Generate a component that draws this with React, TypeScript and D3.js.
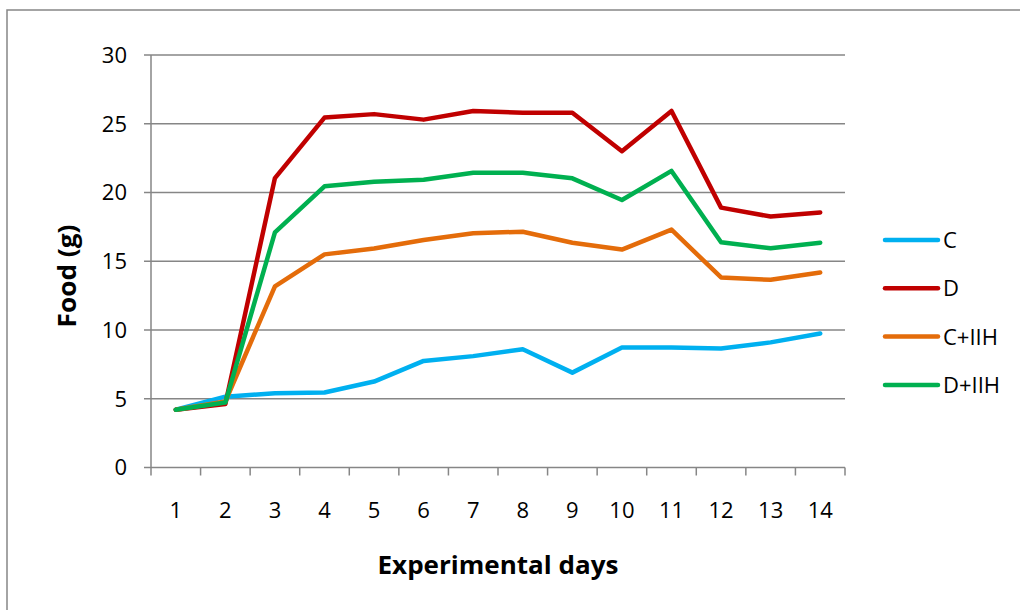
import React from "react";
import * as d3 from "d3";

// Experimental days on the x axis
const days = ["1", "2", "3", "4", "5", "6", "7", "8", "9", "10", "11", "12", "13", "14"];

// Daily food intake (g) per group
const seriesC = [4.2, 5.15, 5.4, 5.45, 6.25, 7.75, 8.1, 8.6, 6.9, 8.72, 8.72, 8.66, 9.1, 9.75];
const seriesD = [4.2, 4.62, 21.05, 25.45, 25.7, 25.3, 25.93, 25.8, 25.8, 23.0, 25.93, 18.9, 18.25, 18.55];
const seriesCIIH = [4.2, 4.8, 13.18, 15.5, 15.93, 16.55, 17.03, 17.15, 16.35, 15.85, 17.3, 13.82, 13.65, 14.18];
const seriesDIIH = [4.2, 4.72, 17.1, 20.45, 20.78, 20.93, 21.43, 21.43, 21.03, 19.45, 21.57, 16.38, 15.95, 16.35];

const seriesNames = ["C", "D", "C+IIH", "D+IIH"];
const seriesColors = ["#00b0f0", "#c00000", "#e46c0a", "#00b050"];

const yTicks = [0, 5, 10, 15, 20, 25, 30];

const W = 1020;
const H = 610;
const plot = { left: 151, right: 845, top: 55, bottom: 467.5 };
const font = "'Open Sans', 'Noto Sans', sans-serif";
const gridColor = "#868686";

export default function App() {
  const series = [seriesC, seriesD, seriesCIIH, seriesDIIH];

  const x = d3.scaleBand<string>().domain(days).range([plot.left, plot.right]);
  const y = d3.scaleLinear().domain([0, 30]).range([plot.bottom, plot.top]);
  const cx = (d: string) => (x(d) ?? 0) + x.bandwidth() / 2;

  const line = d3
    .line<number>()
    .x((_, i) => cx(days[i]))
    .y((v) => y(v));

  const tickEdges = d3.range(days.length + 1).map((i) => plot.left + i * x.step());

  return (
    <svg
      width={W}
      height={H}
      style={{ position: "absolute", left: 0, top: 0, background: "#fff" }}
    >
      {/* chart frame */}
      <rect x={7} y={10} width={W} height={H} fill="#fff" stroke={gridColor} strokeWidth={1.5} />

      {/* horizontal gridlines with y tick marks */}
      {yTicks.map((t) => (
        <g key={t}>
          <line
            x1={plot.left - 7}
            x2={plot.right}
            y1={y(t)}
            y2={y(t)}
            stroke={gridColor}
            strokeWidth={1.5}
          />
          <text
            x={127}
            y={y(t)}
            dy="0.36em"
            textAnchor="end"
            fontFamily={font}
            fontSize={22}
            fill="#000"
          >
            {t}
          </text>
        </g>
      ))}

      {/* y axis line */}
      <line
        x1={plot.left}
        x2={plot.left}
        y1={plot.top}
        y2={plot.bottom}
        stroke={gridColor}
        strokeWidth={1.5}
      />

      {/* x tick marks between categories */}
      {tickEdges.map((tx, i) => (
        <line
          key={i}
          x1={tx}
          x2={tx}
          y1={plot.bottom}
          y2={plot.bottom + 8}
          stroke={gridColor}
          strokeWidth={1.5}
        />
      ))}

      {/* x tick labels */}
      {days.map((d) => (
        <text
          key={d}
          x={cx(d)}
          y={510}
          dy="0.36em"
          textAnchor="middle"
          fontFamily={font}
          fontSize={22}
          fill="#000"
        >
          {d}
        </text>
      ))}

      {/* series lines */}
      {series.map((s, i) => (
        <path
          key={seriesNames[i]}
          d={line(s) ?? ""}
          fill="none"
          stroke={seriesColors[i]}
          strokeWidth={4.5}
          strokeLinejoin="round"
          strokeLinecap="round"
        />
      ))}

      {/* axis titles */}
      <text
        x={498}
        y={565}
        dy="0.36em"
        textAnchor="middle"
        fontFamily={font}
        fontSize={25}
        fontWeight="bold"
        fill="#000"
        textLength={241}
        lengthAdjust="spacingAndGlyphs"
      >
        Experimental days
      </text>
      <text
        transform={`translate(67,276) rotate(-90)`}
        dy="0.36em"
        textAnchor="middle"
        fontFamily={font}
        fontSize={25}
        fontWeight="bold"
        fill="#000"
        textLength={103}
        lengthAdjust="spacingAndGlyphs"
      >
        Food (g)
      </text>

      {/* legend */}
      {seriesNames.map((name, i) => {
        const ly = 240 + i * 48.3;
        return (
          <g key={name}>
            <line
              x1={885}
              x2={938}
              y1={ly}
              y2={ly}
              stroke={seriesColors[i]}
              strokeWidth={4.5}
              strokeLinecap="round"
            />
            <text
              x={943}
              y={ly}
              dy="0.36em"
              fontFamily={font}
              fontSize={22}
              fill="#000"
            >
              {name}
            </text>
          </g>
        );
      })}
    </svg>
  );
}
